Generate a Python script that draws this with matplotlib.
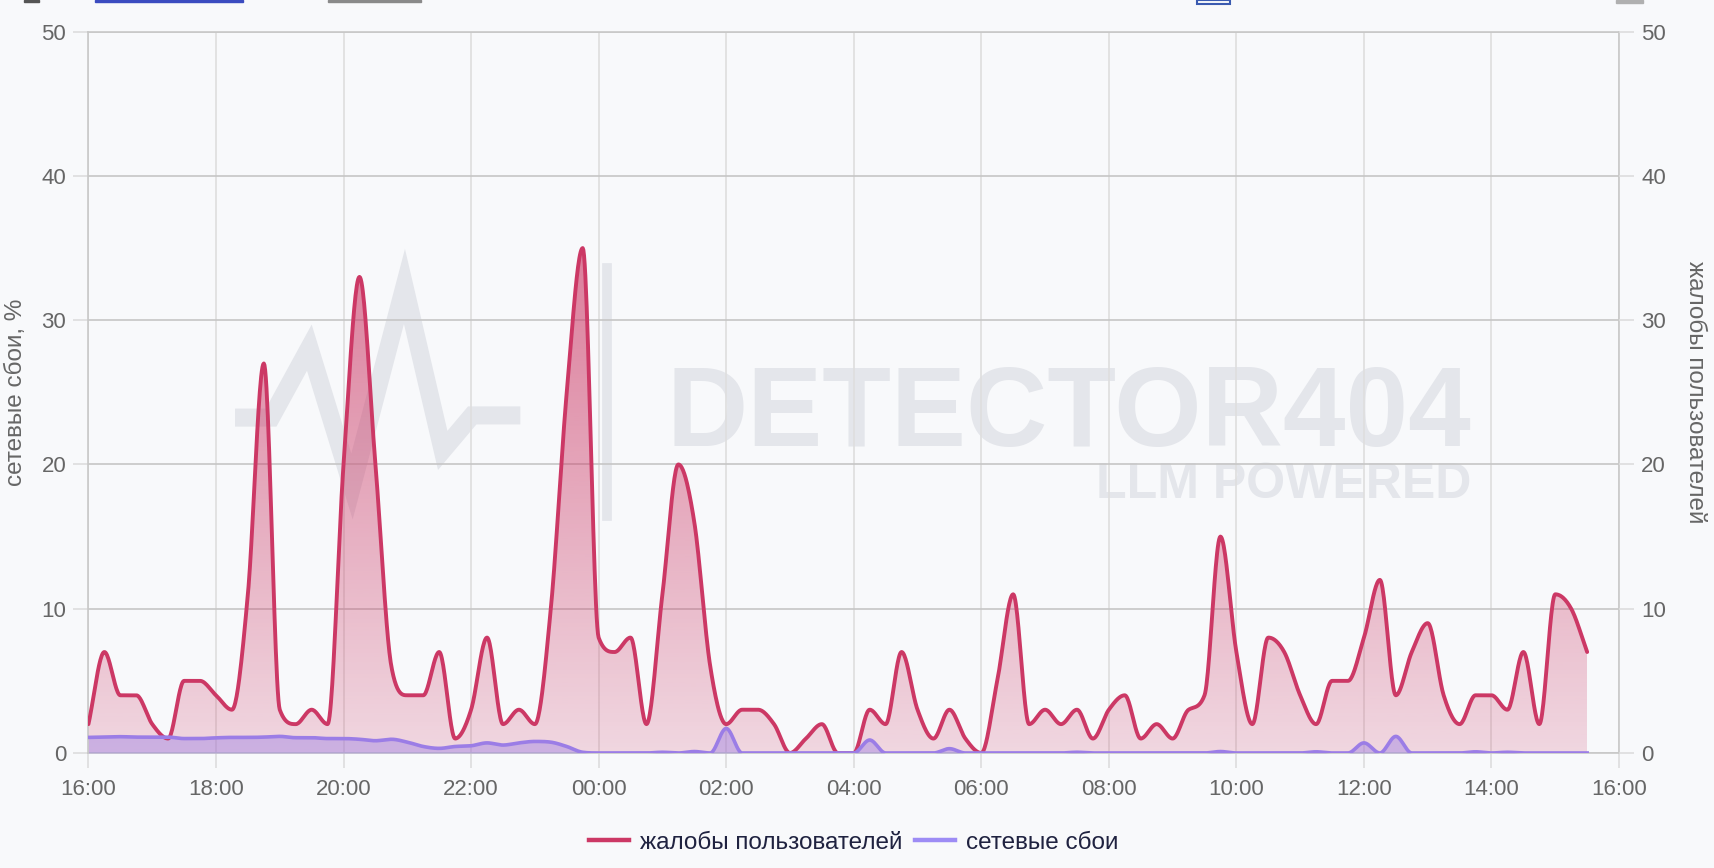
import numpy as np
import matplotlib.pyplot as plt
from matplotlib.lines import Line2D
from matplotlib.patches import Rectangle

plt.rcParams['font.family'] = ['Liberation Sans', 'DejaVu Sans']

# hours after 16:00, one point every 15 minutes (16:00 .. 15:30)
tick_labels = ['16:00', '18:00', '20:00', '22:00', '00:00', '02:00', '04:00',
               '06:00', '08:00', '10:00', '12:00', '14:00', '16:00']

# complaints (right axis)
complaints = [2, 7, 4, 4, 2, 1, 5, 5, 4, 3, 11, 27, 3, 2, 3, 2,
              20, 33, 20, 6, 4, 4, 7, 1, 3, 8, 2, 3, 2, 10, 25, 35,
              8, 7, 8, 2, 11, 20, 16, 6, 2, 3, 3, 2, 0, 1, 2, 0,
              0, 3, 2, 7, 3, 1, 3, 1, 0, 5, 11, 2, 3, 2, 3, 1,
              3, 4, 1, 2, 1, 3, 4, 15, 7, 2, 8, 7, 4, 2, 5, 5,
              8, 12, 4, 7, 9, 4, 2, 4, 4, 3, 7, 2, 11, 10, 7]

# network failures, % (left axis)
failures = [1.08, 1.1, 1.13, 1.1, 1.1, 1.1, 1.0, 1.0, 1.05, 1.08, 1.08, 1.1, 1.15, 1.06, 1.06, 1.0,
            1.0, 0.95, 0.85, 0.95, 0.75, 0.45, 0.32, 0.45, 0.5, 0.7, 0.55, 0.7, 0.8, 0.75, 0.45, 0.05,
            0, 0, 0, 0, 0.05, 0, 0.1, 0, 1.7, 0, 0, 0, 0, 0, 0, 0,
            0, 0.9, 0, 0, 0, 0, 0.3, 0, 0, 0, 0, 0, 0, 0, 0.05, 0,
            0, 0, 0, 0, 0, 0, 0, 0.1, 0, 0, 0, 0, 0, 0.08, 0, 0,
            0.7, 0, 1.15, 0, 0, 0, 0, 0.08, 0, 0.05, 0, 0, 0, 0, 0]

x = np.arange(len(complaints)) * 0.25


def monotone(xs, ys, n=24):
    # monotone cubic (Fritsch-Carlson), like chart.js cubicInterpolationMode
    xs = np.asarray(xs, float)
    ys = np.asarray(ys, float)
    h = np.diff(xs)
    d = np.diff(ys) / h
    m = np.zeros_like(ys)
    m[0], m[-1] = d[0], d[-1]
    for k in range(1, len(ys) - 1):
        if d[k - 1] * d[k] > 0:
            m[k] = (d[k - 1] + d[k]) / 2
    for k in range(len(d)):
        if d[k] == 0:
            m[k] = m[k + 1] = 0
            continue
        a, b = m[k] / d[k], m[k + 1] / d[k]
        tau = a * a + b * b
        if tau > 9:
            t = 3 / np.sqrt(tau)
            m[k], m[k + 1] = t * a * d[k], t * b * d[k]
    xo, yo = [], []
    for k in range(len(d)):
        t = np.linspace(0, 1, n, endpoint=False)
        h00 = 2 * t**3 - 3 * t**2 + 1
        h10 = t**3 - 2 * t**2 + t
        h01 = -2 * t**3 + 3 * t**2
        h11 = t**3 - t**2
        xo.append(xs[k] + t * h[k])
        yo.append(h00 * ys[k] + h10 * h[k] * m[k] + h01 * ys[k + 1] + h11 * h[k] * m[k + 1])
    xo.append([xs[-1]])
    yo.append([ys[-1]])
    return np.concatenate(xo), np.concatenate(yo)


bg = '#f8f9fb'
red = '#cc3865'
purple = '#9b7de6'

fig = plt.figure(figsize=(17.14, 8.68), dpi=100, facecolor=bg)

# watermark layer behind the chart (reference pixel space)
wm = fig.add_axes([0, 0, 1, 1], zorder=0)
wm.set_xlim(0, 1568)
wm.set_ylim(794, 0)
wm.axis('off')
wm_col = '#e4e6eb'
wm.plot([215, 248, 283, 322, 370, 405, 432, 476],
        [382, 382, 318, 445, 262, 412, 380, 380],
        color=wm_col, lw=13, solid_joinstyle='miter', solid_capstyle='butt')
wm.plot([555, 555], [245, 472], color=wm_col, lw=7)
wm.text(1346, 408, 'DETECTOR404', fontsize=81, fontweight='bold', color=wm_col,
        ha='right', va='baseline', family='Liberation Sans')
wm.text(1346, 456, 'LLM POWERED', fontsize=36, fontweight='bold', color=wm_col,
        ha='right', va='baseline', family='Liberation Sans')
# cut-off page elements at the very top
wm.add_patch(Rectangle((87, 0), 135, 2, color='#3b4cc0'))
wm.add_patch(Rectangle((300, 0), 85, 1.5, color='#8a8a8a'))
wm.add_patch(Rectangle((22, 0), 14, 2, color='#555555'))
wm.add_patch(Rectangle((1095, 0), 30, 4, fill=False, ec='#3b5bb0', lw=1.5))
wm.add_patch(Rectangle((1478, 0), 25, 3, color='#b0b0b0'))

ax = fig.add_axes([0.0516, 0.1325, 0.893, 0.8310], zorder=1)
ax.set_facecolor('none')

xs_c, ys_c = monotone(x, complaints)
xs_f, ys_f = monotone(x, failures)

# complaints: gradient fill
poly = ax.fill_between(xs_c, ys_c, 0, color='none', lw=0)
top = max(complaints)
alpha = np.linspace(0.18, 0.64, 256)[:, None]
rgba = np.zeros((256, 1, 4))
rgba[..., :3] = np.array([204, 56, 101]) / 255
rgba[..., 3] = alpha
im = ax.imshow(rgba, extent=[x[0], x[-1], 0, top], origin='lower', aspect='auto', zorder=2)
im.set_clip_path(poly.get_paths()[0], transform=ax.transData)
ax.plot(xs_c, ys_c, color=red, lw=2.8, zorder=4, solid_capstyle='round')

# failures
ax.fill_between(xs_f, ys_f, 0, color=purple, alpha=0.42, lw=0, zorder=3)
ax.plot(xs_f, ys_f, color=purple, lw=2.6, zorder=5)

ax.set_xlim(0, 24)
ax.set_ylim(0, 50)
ax.set_xticks(np.arange(0, 25, 2))
ax.set_xticklabels(tick_labels)
ax.set_yticks(np.arange(0, 51, 10))
ax.xaxis.grid(True, color='#dedede', lw=1.2)
ax.yaxis.grid(True, color='#c6c6c6', lw=1.2)
ax.set_axisbelow(True)
ax.tick_params(axis='both', length=11, width=1.2, color='#dddddd',
               labelcolor='#666666', labelsize=16)
ax.tick_params(axis='y', pad=5)
ax.tick_params(axis='x', pad=8)
for s in ax.spines.values():
    s.set_color('#c8c8c8')
    s.set_linewidth(1.2)
ax.set_ylabel('сетевые сбои, %', fontsize=17.5, color='#666666', va='center')
ax.yaxis.set_label_coords(-0.0475, 0.5)

ax2 = ax.twinx()
ax2.set_ylim(0, 50)
ax2.set_yticks(np.arange(0, 51, 10))
ax2.tick_params(axis='y', length=11, width=1.2, color='#dddddd',
                labelcolor='#666666', labelsize=16, pad=5)
for s in ax2.spines.values():
    s.set_visible(False)
ax2.set_ylabel('жалобы пользователей', fontsize=17.5, color='#666666',
               rotation=270, va='center')
ax2.yaxis.set_label_coords(1.0497, 0.5)

handles = [Line2D([], [], color=red, lw=3.2),
           Line2D([], [], color='#9d8cf5', lw=3.2)]
fig.legend(handles, ['жалобы пользователей', 'сетевые сбои'], loc='center',
           bbox_to_anchor=(0.498, 0.029), ncol=2, frameon=False, fontsize=17.5,
           labelcolor='#1f2240', handlelength=1.65, handletextpad=0.45,
           columnspacing=0.5)

fig.savefig('out.png', dpi=100, facecolor=bg)
